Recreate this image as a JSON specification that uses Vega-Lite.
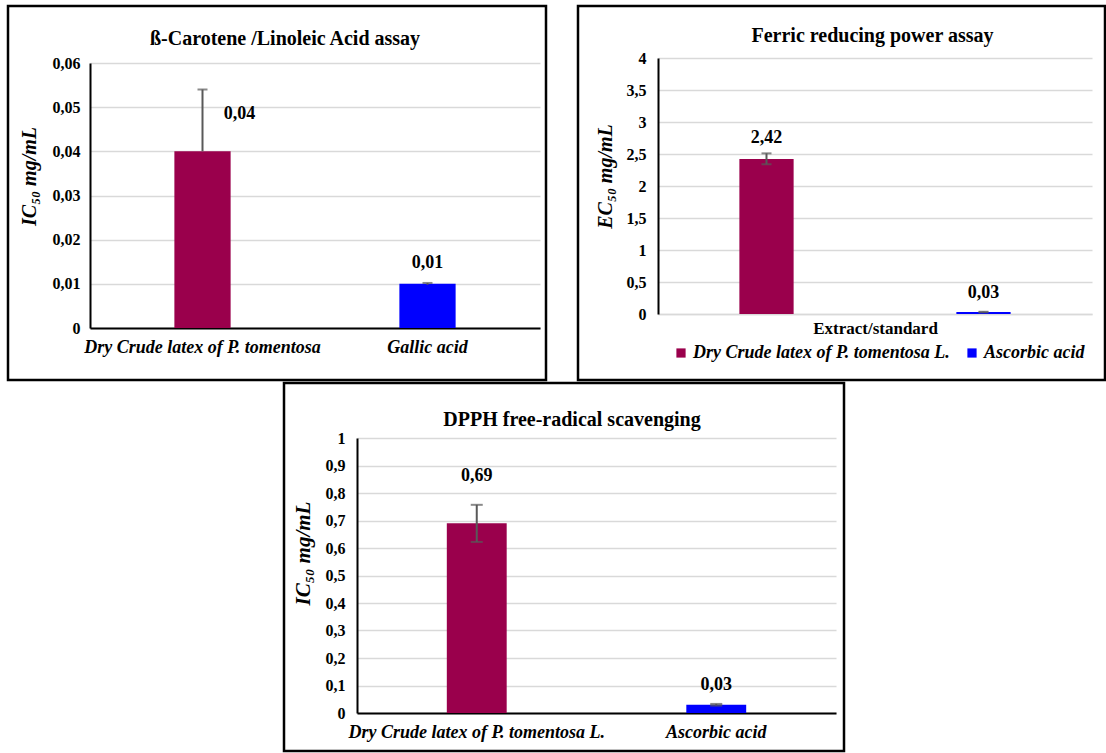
{
  "$schema": "https://vega.github.io/schema/vega-lite/v6.json",
  "background": "white",
  "padding": {"left": 6, "top": 4, "right": 0, "bottom": 0},
  "config": {
    "view": {"stroke": "black", "strokeWidth": 2.5},
    "font": "Liberation Serif",
    "locale": {"number": {"decimal": ",", "thousands": ".", "grouping": [3], "currency": ["", " €"]}},
    "axis": {"labelColor": "black", "titleColor": "black", "labelFont": "Liberation Serif", "titleFont": "Liberation Serif", "labelFontWeight": "bold", "titleFontWeight": "bold"}
  },
  "bounds": "full",
  "spacing": -1,
  "resolve": {"scale": {"color": "independent"}, "legend": {"color": "independent"}},
  "vconcat": [
    {
      "hconcat": [
        {
          "width": 538,
          "height": 374,
          "title": {"text": "ß-Carotene /Linoleic Acid assay", "font": "Liberation Serif", "fontSize": 20, "fontWeight": "bold", "color": "black", "anchor": "middle", "frame": "group", "baseline": "middle", "offset": -53, "dx": 8},
          "data": {"values": [
            {"name": "Dry Crude latex of P. tomentosa", "value": 0.04, "lo": 0.04, "hi": 0.054},
            {"name": "Gallic acid", "value": 0.01, "lo": 0.0098, "hi": 0.0102}
          ]},
          "encoding": {
            "x": {"field": "name", "type": "nominal", "sort": null,
              "scale": {"range": [82, 532], "paddingInner": 0.75, "paddingOuter": 0.375},
              "axis": {"orient": "bottom", "offset": -52, "title": null, "labelAngle": 0, "labelFontStyle": "italic", "labelFontSize": 18, "labelPadding": 10, "labelLimit": 500, "labelOverlap": false, "ticks": false, "tickSize": 0, "domainColor": "black", "domainWidth": 2, "grid": false}}
          },
          "layer": [
            {
              "mark": {"type": "bar"},
              "encoding": {
                "y": {"field": "value", "type": "quantitative",
                  "scale": {"domain": [0, 0.06], "range": [322, 57], "nice": false},
                  "axis": {"orient": "left", "offset": -82, "values": [0, 0.01, 0.02, 0.03, 0.04, 0.05, 0.06], "tickCount": 30, "format": ".2~f", "labelFontSize": 16, "labelPadding": 10, "labelOverlap": false, "ticks": false, "tickSize": 0, "domainColor": "black", "domainWidth": 2, "grid": true, "gridColor": "#d9d9d9", "gridWidth": 1.5,
                    "title": "IC₅₀ mg/mL", "titleFontStyle": "italic", "titleFontSize": 20, "titleAngle": -90, "titleX": -61, "titleY": 170, "titleAlign": "center", "titleBaseline": "middle"}},
                "color": {"field": "name", "type": "nominal", "sort": null, "legend": null,
                  "scale": {"domain": ["Dry Crude latex of P. tomentosa", "Gallic acid"], "range": ["#9A004C", "#0000FF"]}}
              }
            },
            {
              "mark": {"type": "rule", "color": "#595959", "strokeWidth": 2},
              "encoding": {"y": {"field": "lo", "type": "quantitative"}, "y2": {"field": "hi"}}
            },
            {
              "mark": {"type": "tick", "orient": "horizontal", "color": "#595959", "size": 10, "thickness": 2},
              "encoding": {"y": {"field": "hi", "type": "quantitative"}}
            },
            {
              "transform": [{"filter": "datum.name == 'Dry Crude latex of P. tomentosa'"}],
              "mark": {"type": "text", "font": "Liberation Serif", "fontWeight": "bold", "fontSize": 18, "color": "black", "baseline": "middle", "dx": 37, "dy": -37},
              "encoding": {"y": {"field": "value", "type": "quantitative"}, "text": {"field": "value", "type": "quantitative", "format": ".2f"}}
            },
            {
              "transform": [{"filter": "datum.name == 'Gallic acid'"}],
              "mark": {"type": "text", "font": "Liberation Serif", "fontWeight": "bold", "fontSize": 18, "color": "black", "baseline": "middle", "dy": -21},
              "encoding": {"y": {"field": "value", "type": "quantitative"}, "text": {"field": "value", "type": "quantitative", "format": ".2f"}}
            }
          ]
        },
        {
          "width": 527,
          "height": 374,
          "title": {"text": "Ferric reducing power assay", "font": "Liberation Serif", "fontSize": 20, "fontWeight": "bold", "color": "black", "anchor": "middle", "frame": "group", "baseline": "middle", "offset": -50, "dx": 31},
          "data": {"values": [
            {"name": "Dry Crude  latex of P. tomentosa L.", "value": 2.42, "lo": 2.34, "hi": 2.51},
            {"name": "Ascorbic acid", "value": 0.03, "lo": 0.025, "hi": 0.035}
          ]},
          "encoding": {
            "x": {"field": "name", "type": "nominal", "sort": null,
              "scale": {"range": [80, 514], "paddingInner": 0.75, "paddingOuter": 0.375},
              "axis": {"orient": "bottom", "offset": -66, "labels": false, "ticks": false, "tickSize": 0, "domainColor": "#d9d9d9", "domainWidth": 1.5, "grid": false,
                "title": "Extract/standard", "titleFontSize": 17, "titlePadding": 6}}
          },
          "layer": [
            {
              "mark": {"type": "bar"},
              "encoding": {
                "y": {"field": "value", "type": "quantitative",
                  "scale": {"domain": [0, 4], "range": [308, 52], "nice": false},
                  "axis": {"orient": "left", "offset": -80, "values": [0, 0.5, 1, 1.5, 2, 2.5, 3, 3.5, 4], "tickCount": 30, "format": ".1~f", "labelFontSize": 16, "labelPadding": 12, "labelOverlap": false, "ticks": false, "tickSize": 0, "domainColor": "black", "domainWidth": 2, "grid": true, "gridColor": "#d9d9d9", "gridWidth": 1.5,
                    "title": "EC₅₀ mg/mL", "titleFontStyle": "italic", "titleFontSize": 20, "titleAngle": -90, "titleX": -53, "titleY": 170, "titleAlign": "center", "titleBaseline": "middle"}},
                "color": {"field": "name", "type": "nominal", "sort": null,
                  "scale": {"domain": ["Dry Crude  latex of P. tomentosa L.", "Ascorbic acid"], "range": ["#9A004C", "#0000FF"]},
                  "legend": {"orient": "none", "legendX": 94, "legendY": 338, "direction": "horizontal", "title": null, "symbolType": "square", "symbolSize": 85, "symbolStrokeWidth": 0, "labelFont": "Liberation Serif", "labelFontStyle": "italic", "labelFontWeight": "bold", "labelFontSize": 18, "labelColor": "black", "labelLimit": 500, "columnPadding": 8, "labelOffset": 3}}
              }
            },
            {
              "mark": {"type": "rule", "color": "#595959", "strokeWidth": 2},
              "encoding": {"y": {"field": "lo", "type": "quantitative"}, "y2": {"field": "hi"}}
            },
            {
              "mark": {"type": "tick", "orient": "horizontal", "color": "#595959", "size": 10, "thickness": 2},
              "encoding": {"y": {"field": "hi", "type": "quantitative"}}
            },
            {
              "mark": {"type": "tick", "orient": "horizontal", "color": "#595959", "size": 10, "thickness": 2},
              "encoding": {"y": {"field": "lo", "type": "quantitative"}}
            },
            {
              "transform": [{"filter": "datum.name == 'Ascorbic acid'"}],
              "mark": {"type": "text", "font": "Liberation Serif", "fontWeight": "bold", "fontSize": 18, "color": "black", "baseline": "middle", "dy": -19},
              "encoding": {"y": {"field": "value", "type": "quantitative"}, "text": {"field": "value", "type": "quantitative", "format": ".2f"}}
            },
            {
              "transform": [{"filter": "datum.name != 'Ascorbic acid'"}],
              "mark": {"type": "text", "font": "Liberation Serif", "fontWeight": "bold", "fontSize": 18, "color": "black", "baseline": "middle", "dy": -21},
              "encoding": {"y": {"field": "value", "type": "quantitative"}, "text": {"field": "value", "type": "quantitative", "format": ".2f"}}
            }
          ]
        }
      ],
      "spacing": 32,
      "bounds": "flush",
      "resolve": {"scale": {"color": "independent"}, "legend": {"color": "independent"}}
    },
    {
      "hconcat": [
        {
          "width": 256,
          "height": 10,
          "data": {"values": [{"a": 1}]},
          "mark": {"type": "text", "text": ""},
          "encoding": {},
          "view": {"stroke": null}
        },
        {
          "width": 560,
          "height": 368,
          "title": {"text": "DPPH free-radical scavenging", "font": "Liberation Serif", "fontSize": 20, "fontWeight": "bold", "color": "black", "anchor": "middle", "frame": "group", "baseline": "middle", "offset": -57, "dx": 8},
          "data": {"values": [
            {"name": "Dry Crude latex of P. tomentosa L.", "value": 0.69, "lo": 0.622, "hi": 0.757},
            {"name": "Ascorbic acid", "value": 0.03, "lo": 0.027, "hi": 0.033}
          ]},
          "encoding": {
            "x": {"field": "name", "type": "nominal", "sort": null,
              "scale": {"range": [73, 552], "paddingInner": 0.75, "paddingOuter": 0.375},
              "axis": {"orient": "bottom", "offset": -38, "title": null, "labelAngle": 0, "labelFontStyle": "italic", "labelFontSize": 18, "labelPadding": 10, "labelLimit": 500, "labelOverlap": false, "ticks": false, "tickSize": 0, "domainColor": "black", "domainWidth": 2, "grid": false}}
          },
          "layer": [
            {
              "mark": {"type": "bar"},
              "encoding": {
                "y": {"field": "value", "type": "quantitative",
                  "scale": {"domain": [0, 1], "range": [330, 55], "nice": false},
                  "axis": {"orient": "left", "offset": -73, "values": [0, 0.1, 0.2, 0.3, 0.4, 0.5, 0.6, 0.7, 0.8, 0.9, 1], "tickCount": 30, "format": ".1~f", "labelFontSize": 16, "labelPadding": 12, "labelOverlap": false, "ticks": false, "tickSize": 0, "domainColor": "black", "domainWidth": 2, "grid": true, "gridColor": "#d9d9d9", "gridWidth": 1.5,
                    "title": "IC₅₀ mg/mL", "titleFontStyle": "italic", "titleFontSize": 21, "titleAngle": -90, "titleX": -54, "titleY": 170, "titleAlign": "center", "titleBaseline": "middle"}},
                "color": {"field": "name", "type": "nominal", "sort": null, "legend": null,
                  "scale": {"domain": ["Dry Crude latex of P. tomentosa L.", "Ascorbic acid"], "range": ["#9A004C", "#0000FF"]}}
              }
            },
            {
              "mark": {"type": "rule", "color": "#595959", "strokeWidth": 2},
              "encoding": {"y": {"field": "lo", "type": "quantitative"}, "y2": {"field": "hi"}}
            },
            {
              "mark": {"type": "tick", "orient": "horizontal", "color": "#595959", "size": 12, "thickness": 2},
              "encoding": {"y": {"field": "hi", "type": "quantitative"}}
            },
            {
              "mark": {"type": "tick", "orient": "horizontal", "color": "#595959", "size": 12, "thickness": 2},
              "encoding": {"y": {"field": "lo", "type": "quantitative"}}
            },
            {
              "transform": [{"filter": "datum.name == 'Ascorbic acid'"}],
              "mark": {"type": "text", "font": "Liberation Serif", "fontWeight": "bold", "fontSize": 18, "color": "black", "baseline": "middle", "dy": -20},
              "encoding": {"y": {"field": "value", "type": "quantitative"}, "text": {"field": "value", "type": "quantitative", "format": ".2f"}}
            },
            {
              "transform": [{"filter": "datum.name != 'Ascorbic acid'"}],
              "mark": {"type": "text", "font": "Liberation Serif", "fontWeight": "bold", "fontSize": 18, "color": "black", "baseline": "middle", "dy": -47},
              "encoding": {"y": {"field": "value", "type": "quantitative"}, "text": {"field": "value", "type": "quantitative", "format": ".2f"}}
            }
          ]
        }
      ],
      "spacing": 20,
      "bounds": "flush"
    }
  ]
}
